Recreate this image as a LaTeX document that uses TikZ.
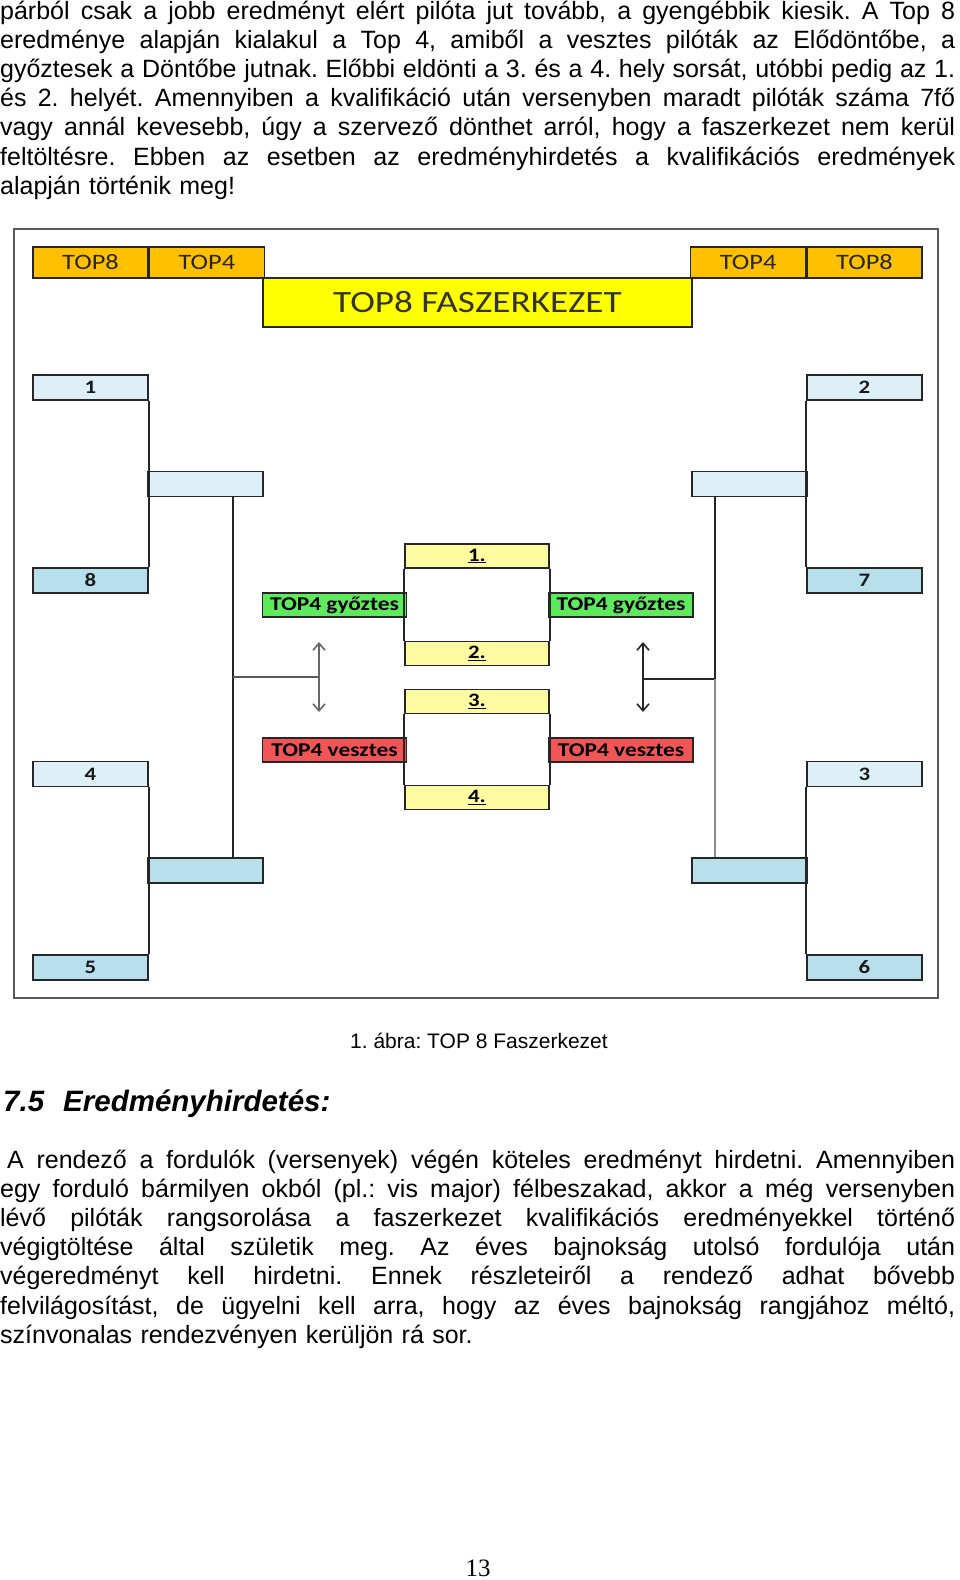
\documentclass[tikz,border=0pt]{standalone}
\usepackage{fontspec}
\setmainfont{Liberation Sans}
\newfontfamily\pagefont{Liberation Serif}
\newfontfamily\calfont{Carlito}[FakeStretch=1.2]
\usetikzlibrary{positioning,arrows.meta}
\definecolor{hdrorange}{HTML}{FFC000}
\definecolor{titleyellow}{HTML}{FFFF00}
\definecolor{seedlight}{HTML}{DDF0F8}
\definecolor{seeddark}{HTML}{B8E0EC}
\definecolor{wingreen}{HTML}{5DEB5D}
\definecolor{losered}{HTML}{F25555}
\definecolor{placeyellow}{HTML}{FFFBA0}
\newcommand\justline[1]{\makebox[955pt][s]{\spaceskip=6.95pt plus 1fil minus 2pt\relax #1}\\}
\tikzset{%
hdr/.style={draw=black!85,fill=hdrorange,line width=1.4pt,minimum width=115pt,minimum height=31pt,inner sep=0,text=black!85,font=\calfont\fontsize{22}{22}\selectfont},
titlebox/.style={draw=black!85,fill=titleyellow,line width=1.4pt,minimum width=429pt,minimum height=49pt,inner sep=0,text=black!80,font=\calfont\fontsize{31}{31}\selectfont},
seedbox/.style={draw=black!85,line width=1.4pt,minimum width=115pt,minimum height=25pt,inner sep=0,text=black!90,font=\calfont\bfseries\fontsize{19}{19}\selectfont},
seedlt/.style={seedbox,fill=seedlight},
seeddk/.style={seedbox,fill=seeddark},
tagbox/.style={draw=black!85,line width=1.4pt,minimum width=144pt,minimum height=24pt,inner sep=0,font=\calfont\bfseries\fontsize{19.5}{19.5}\selectfont},
winbox/.style={tagbox,fill=wingreen},
losebox/.style={tagbox,fill=losered},
placebox/.style={tagbox,fill=placeyellow,font=\calfont\bfseries\fontsize{19}{19}\selectfont},
bracket/.style={draw=black!85,line width=1.7pt},
updown/.style={{Straight Barb[length=7pt,width=12pt]}-{Straight Barb[length=7pt,width=12pt]},line width=1.6pt},
framebox/.style={draw=black!65,line width=1.8pt},
bodypar/.style={anchor=base west,inner sep=0,text width=955pt,align=left,font=\frenchspacing\fontsize{25}{29.2}\selectfont}
}

\begin{document}
\begin{tikzpicture}[x=1pt,y=-1pt]
  \useasboundingbox (0,0) rectangle (960,1580);

  \node[bodypar] (partop) at (0,19) {%
    \justline{párból csak a jobb eredményt elért pilóta jut tovább, a gyengébbik kiesik. A Top 8}
    \justline{eredménye alapján kialakul a Top 4, amiből a vesztes pilóták az Elődöntőbe, a}
    \justline{győztesek a Döntőbe jutnak. Előbbi eldönti a 3. és a 4. hely sorsát, utóbbi pedig az 1.}
    \justline{és 2. helyét. Amennyiben a kvalifikáció után versenyben maradt pilóták száma 7fő}
    \justline{vagy annál kevesebb, úgy a szervező dönthet arról, hogy a faszerkezet nem kerül}
    \justline{feltöltésre. Ebben az esetben az eredményhirdetés a kvalifikációs eredmények}
    alapján történik meg!};

  \draw[framebox] (14,229) rectangle (938,998);

  % header row
  \node[hdr] (top8L) at (90.5,262.5) {TOP8};
  \node[hdr,right=0pt of top8L] (top4L) {TOP4};
  \node[hdr] (top8R) at (864.5,262.5) {TOP8};
  \node[hdr,left=0pt of top8R] (top4R) {TOP4};
  \node[titlebox] (title) at (477.5,302.5) {TOP8 FASZERKEZET};

  % top 8
  \node[seedlt] (s1) at (90.5,387.5) {1};
  \node[seeddk] (s8) at (90.5,580.5) {8};
  \node[seedlt] (s4) at (90.5,774) {4};
  \node[seeddk] (s5) at (90.5,967.5) {5};
  \node[seedlt] (s2) at (864.5,387.5) {2};
  \node[seeddk] (s7) at (864.5,580.5) {7};
  \node[seedlt] (s3) at (864.5,774) {3};
  \node[seeddk] (s6) at (864.5,967.5) {6};

  % top 4
  \node[seedlt] (qL1) at (205.5,484) {};
  \node[seeddk] (qL2) at (205.5,870.5) {};
  \node[seedlt] (qR1) at (749.5,484) {};
  \node[seeddk] (qR2) at (749.5,870.5) {};

  \node[winbox] (winL) at (334.5,605) {TOP4 győztes};
  \node[losebox] (loseL) at (334.5,750) {TOP4 vesztes};
  \node[winbox] (winR) at (621,605) {TOP4 győztes};
  \node[losebox] (loseR) at (621,750) {TOP4 vesztes};

  \node[placebox] (p1) at (477,556) {\underline{1.}};
  \node[placebox] (p2) at (477,653.5) {\underline{2.}};
  \node[placebox] (p3) at (477,701.5) {\underline{3.}};
  \node[placebox] (p4) at (477,797.5) {\underline{4.}};

  \draw[bracket] (s1.south east) -- (s8.north east);
  \draw[bracket] (s4.south east) -- (s5.north east);
  \draw[bracket] (s2.south west) -- (s7.north west);
  \draw[bracket] (s3.south west) -- (s6.north west);
  \draw[bracket] (p1.south west) -- (p2.north west);
  \draw[bracket] (p1.south east) -- (p2.north east);
  \draw[bracket] (p3.south west) -- (p4.north west);
  \draw[bracket] (p3.south east) -- (p4.north east);

  \coordinate (spL) at ([xshift=86pt]qL1.south west);
  \coordinate (spR) at ([xshift=24pt]qR1.south west);
  \coordinate (arLt) at (319,642);
  \coordinate (arLm) at (319,677);
  \coordinate (arLb) at (319,712);
  \coordinate (arRt) at (643,642);
  \coordinate (arRm) at (643,679);
  \coordinate (arRb) at (643,712);

  \draw[bracket] (spL) -- (spL |- qL2.north);
  \draw[bracket,draw=black!65] (arLm) -- (arLm -| spL);
  \draw[updown,draw=black!60] (arLt) -- (arLb);
  \draw[bracket] (spR) -- (spR |- arRm) -- (arRm);
  \draw[bracket,draw=black!45] (spR |- arRm) -- (spR |- qR2.north);
  \draw[updown,draw=black!85] (arRt) -- (arRb);

  \node[anchor=base west,inner sep=0,font=\frenchspacing\fontsize{21}{21}\selectfont] (caption) at (350,1048) {1. ábra: TOP 8 Faszerkezet};
  \node[anchor=base west,inner sep=0,font=\bfseries\itshape\fontsize{29.5}{29.5}\selectfont] (heading) at (3,1111) {7.5\hspace{19pt}Eredményhirdetés:};

  \node[bodypar] (parbot) at (0,1168) {%
    \justline{\hspace*{7pt}A rendező a fordulók (versenyek) végén köteles eredményt hirdetni. Amennyiben}
    \justline{egy forduló bármilyen okból (pl.: vis major) félbeszakad, akkor a még versenyben}
    \justline{lévő pilóták rangsorolása a faszerkezet kvalifikációs eredményekkel történő}
    \justline{végigtöltése által születik meg. Az éves bajnokság utolsó fordulója után}
    \justline{végeredményt kell hirdetni. Ennek részleteiről a rendező adhat bővebb}
    \justline{felvilágosítást, de ügyelni kell arra, hogy az éves bajnokság rangjához méltó,}
    színvonalas rendezvényen kerüljön rá sor.};

  \node[anchor=base,inner sep=0,font=\pagefont\fontsize{25}{25}\selectfont] (pageno) at (478,1576) {13};
\end{tikzpicture}
\end{document}
